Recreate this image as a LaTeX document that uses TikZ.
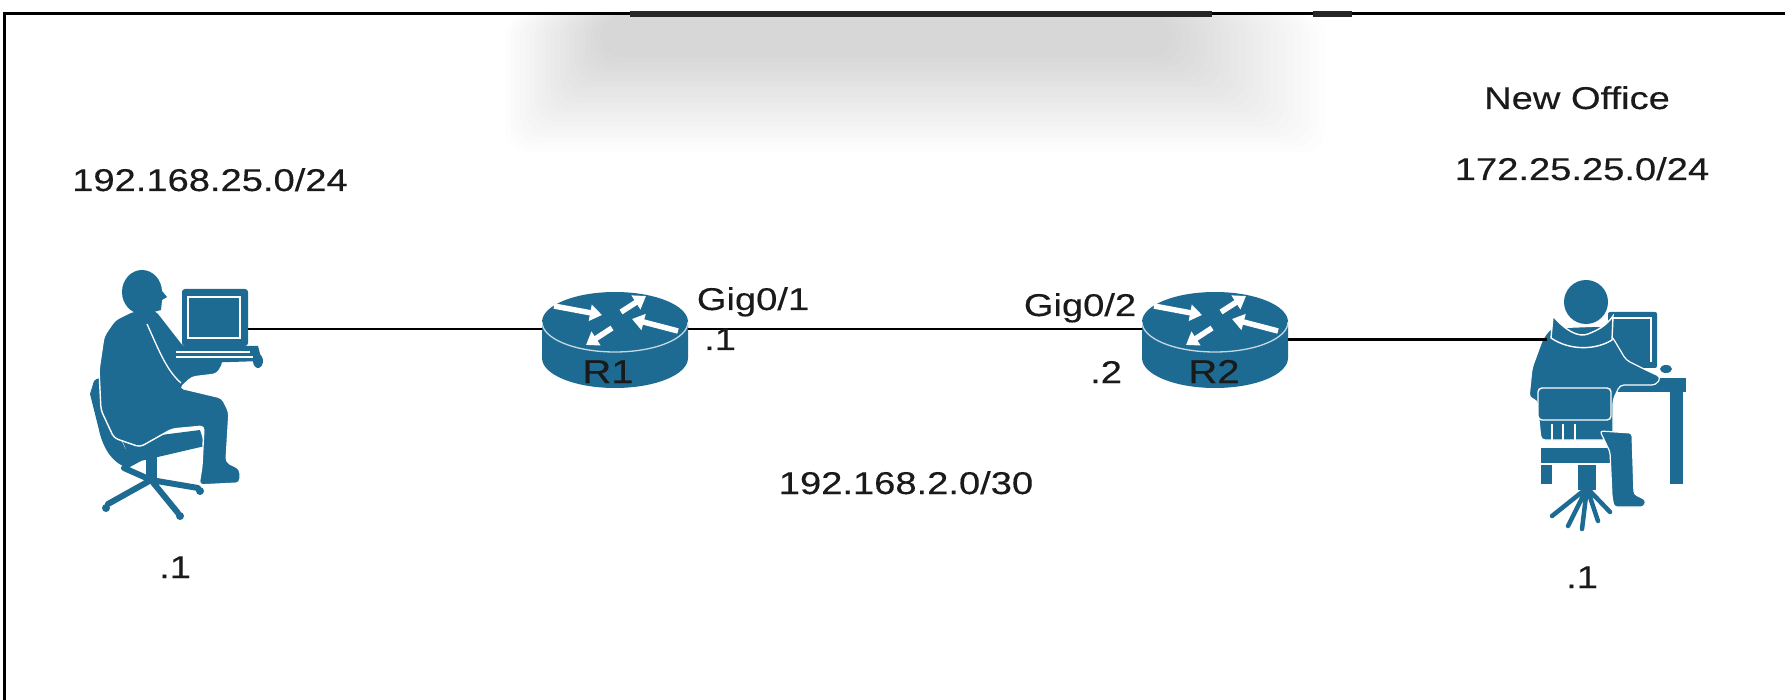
\documentclass[tikz,border=0pt]{standalone}
\usepackage{fontspec}
\setmainfont[FakeStretch=1.21, FakeBold=0.3]{Liberation Sans}
\usetikzlibrary{arrows.meta}

\definecolor{iconblue}{HTML}{1D6A92}
\definecolor{txt}{HTML}{1A1A1A}

\tikzset{
  icon/.style={fill=iconblue},
  lbl/.style={font=\fontsize{31.5}{36}\selectfont, text=txt, inner sep=0pt, anchor=base},
  rname/.style={font=\fontsize{33}{38}\selectfont, text=txt, inner sep=0pt, anchor=base},
  link/.style={draw=black, line width=2.6pt},
  port/.style={inner sep=0pt, minimum width=146pt, minimum height=70pt},
  hostbox/.style={inner sep=0pt},
  rarrow/.style={white, line width=5.5pt, -{Triangle[length=12pt,width=16pt]}},
  pic router/.pic={
    % side wall
    \fill[iconblue] (-73,0) -- (-73,36) arc[start angle=180,end angle=0,x radius=73,y radius=30] -- (73,0) -- cycle;
    % top face
    \fill[iconblue] (0,0) ellipse[x radius=73, y radius=30];
    \draw[white, line width=1.3pt, opacity=0.75] (-73,0) arc[start angle=180,end angle=0,x radius=73,y radius=30];
    % traffic arrows
    \draw[rarrow] (-61,-16) -- (-13,-7);
    \draw[rarrow] (63,9) -- (17,-3);
    \draw[rarrow] (6,-10) -- (31,-26);
    \draw[rarrow] (-3,6) -- (-29,23);
  }
}

\begin{document}
\begin{tikzpicture}[x=1pt, y=-1pt]
\useasboundingbox (0,0) rectangle (1785,700);
\fill[white] (0,0) rectangle (1785,700);

% soft grey haze under the top edge
\foreach \i in {0,...,19} {
  \fill[black, opacity=0.0062, rounded corners=22pt] ({505+5*\i},15) rectangle ({1325-8*\i},{152-5*\i});
}

% frame
\draw[line width=3pt, black] (4,700) -- (4,14) -- (1785,14);
\draw[line width=6pt, black!85] (630,14) -- (1212,14);
\draw[line width=6pt, black!85] (1313,14) -- (1352,14);

% ---------------- left host: man at a desktop computer ----------------
% chair back
\fill[icon] (94,381) .. controls (100,375) and (106,379) .. (109,390) -- (119,432)
  .. controls (123,448) and (129,457) .. (141,461) -- (128,468)
  .. controls (112,463) and (103,448) .. (99,430) -- (90,394) -- cycle;
% chair seat, post and base
\fill[icon] (122,440) -- (200,430) -- (205,446) -- (132,463) -- cycle;
\fill[icon] (146,455) rectangle (157,481);
\draw[iconblue, line width=6pt, line cap=round]
  (151,480) -- (108,504) (151,480) -- (178,513) (151,480) -- (198,488) (151,480) -- (124,468);
\fill[icon] (106,508) circle (4) (180,516) circle (4) (200,491) circle (4);
% body
\fill[icon, draw=white, line width=1.4pt, rounded corners=4pt]
  (156,310) -- (170,328) -- (184,346) -- (214,352) -- (224,362) -- (217,374) -- (192,377)
  -- (180,388) -- (222,398) -- (229,412) -- (226,462) -- (240,469) -- (240,483) -- (199,485)
  -- (202,466) -- (204,426) -- (172,429) -- (140,447) -- (114,438) -- (101,410) -- (99,370)
  -- (104,336) -- (115,320) -- (133,311) -- cycle;
\draw[white, line width=1.3pt] (147,324) .. controls (158,348) and (166,370) .. (181,383);
% head
\fill[icon] (142,292) ellipse[x radius=20, y radius=22];
\fill[icon] (152,277) -- (162,291) -- (167,297) -- (162,300) -- (161,310) -- (140,316) -- (134,300) -- cycle;
% monitor and keyboard
\fill[icon, rounded corners=3pt] (182,289) rectangle (248,346);
\draw[white, line width=1.4pt] (188,297) rectangle (240,338);
\fill[icon] (166,346) -- (258,346) -- (262,361) -- (168,364) -- cycle;
\draw[white, line width=1.1pt] (176,352) -- (250,352) (176,357) -- (253,357);
\fill[icon] (258,361) ellipse[x radius=5, y radius=7];

% ---------------- right host: woman at a desk ----------------
% desk
\fill[icon] (1608,378) rectangle (1686,392);
\fill[icon] (1670,391) rectangle (1683,484);
% monitor and mouse
\fill[icon, rounded corners=2pt] (1608,312) rectangle (1657,368);
\draw[white, line width=1.4pt] (1612,318) -- (1651,318) -- (1651,362);
\fill[icon] (1666,369) ellipse[x radius=6, y radius=4];
% chair base, post and armrest
\draw[iconblue, line width=4.5pt, line cap=round]
  (1587,488) -- (1552,516) (1587,488) -- (1568,526) (1587,488) -- (1582,529)
  (1587,488) -- (1598,521) (1587,488) -- (1610,512);
\fill[icon] (1578,460) rectangle (1596,490);
\fill[icon] (1541,462) rectangle (1552,484);
% torso and arm
\fill[icon, draw=white, line width=1.2pt, rounded corners=4pt]
  (1551,328) -- (1602,326) -- (1613,338) -- (1626,360) -- (1648,371) -- (1661,377) -- (1656,385)
  -- (1620,385) -- (1613,400) -- (1613,440) -- (1541,440) -- (1537,400) -- (1529,398)
  -- (1532,368) -- (1543,338) -- cycle;
% hood around the neck
\fill[icon, draw=white, line width=1.4pt]
  (1553,316) .. controls (1565,330) and (1578,338) .. (1588,334)
  .. controls (1598,330) and (1606,326) .. (1613,316) -- (1612,340)
  .. controls (1596,350) and (1570,351) .. (1551,338) -- cycle;
% head
\fill[icon] (1586,302) ellipse[x radius=22, y radius=22];
% chair back, slats and seat
\fill[icon, draw=white, line width=1.4pt, rounded corners=4pt] (1538,388) rectangle (1611,420);
\draw[white, line width=1.2pt] (1552,424) -- (1552,446) (1563,424) -- (1563,446) (1575,424) -- (1575,446);
\fill[icon, draw=white, line width=1.4pt] (1540,447) rectangle (1614,464);
% leg
\fill[icon, draw=white, line width=1.2pt, rounded corners=3pt]
  (1600,431) -- (1632,433) -- (1634,494) -- (1646,500) -- (1644,507) -- (1614,507)
  -- (1612,497) -- (1610,452) -- cycle;

% ---------------- nodes ----------------
\node[hostbox, minimum width=156pt, minimum height=247pt] (pcL) at (170,393) {};
\node[hostbox, minimum width=138pt, minimum height=244pt] (pcR) at (1616,405) {};
\node[port] (R1) at (615,329) {};
\node[port] (R2) at (1215,329) {};
\pic at ([yshift=7pt]R1.center) {pic router};
\pic at ([yshift=7pt]R2.center) {pic router};
\node[rname] (r1name) at (608,383) {R1};
\node[rname] (r2name) at (1214,383) {R2};

% links
\draw[link] (pcL.east |- R1.west) -- (R1.west);
\draw[link] (R1.east) -- (R2.west);
\draw[link] (R2.-8) -- (pcR.west |- R2.-8);

% labels
\node[lbl] (netL) at (210,191) {192.168.25.0/24};
\node[lbl] (office) at (1577,109) {New Office};
\node[lbl] (netR) at (1582,180) {172.25.25.0/24};
\node[lbl] (gig1) at (753,310) {Gig0/1};
\node[lbl] (gig2) at (1080,316) {Gig0/2};
\node[lbl] (ip1) at (720,350) {.1};
\node[lbl] (ip2) at (1106,383) {.2};
\node[lbl] (wan) at (906,494) {192.168.2.0/30};
\node[lbl] (hostL) at (175,578) {.1};
\node[lbl] (hostR) at (1582,588) {.1};
\end{tikzpicture}
\end{document}
